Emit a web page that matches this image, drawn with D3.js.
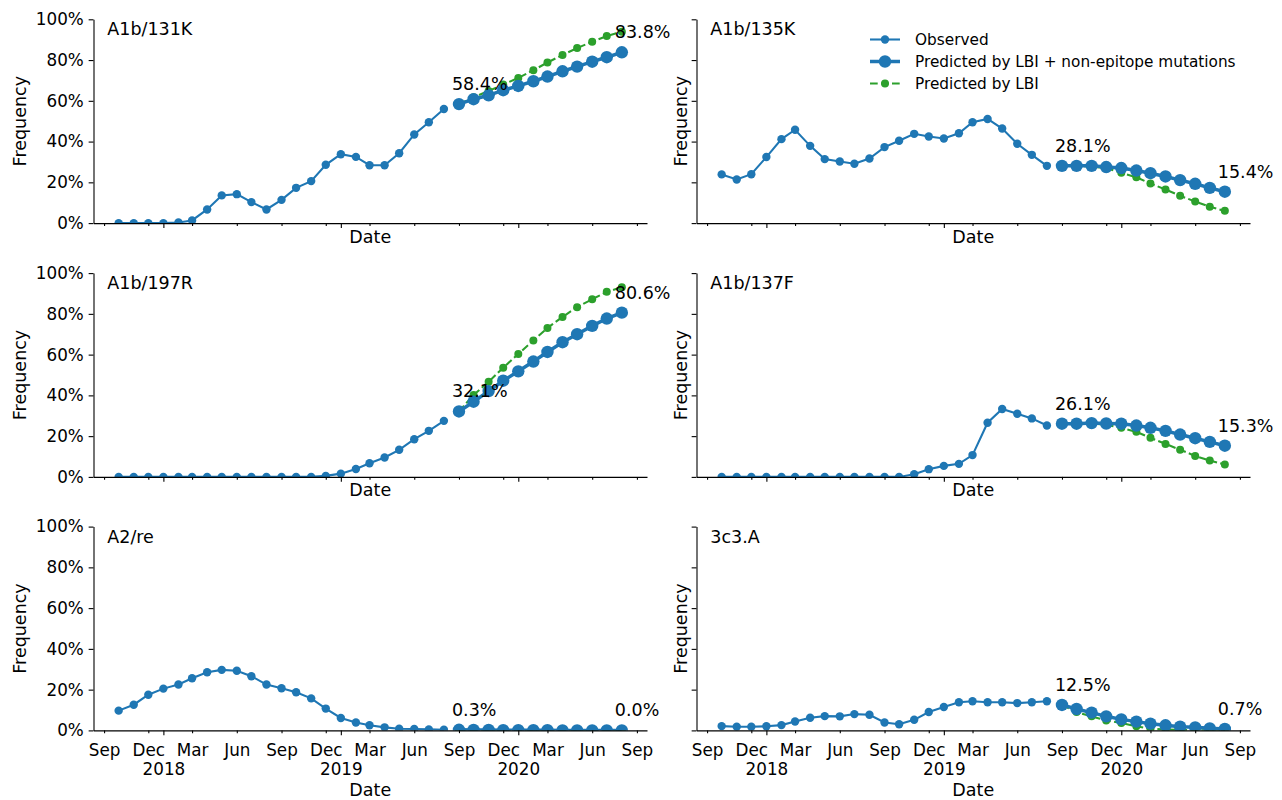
<!DOCTYPE html>
<html>
<head>
<meta charset="utf-8">
<script src="https://cdn.jsdelivr.net/npm/d3@7"></script>
<style>
  body { margin: 0; background: #fff; }
  svg { display: block; font-family: "DejaVu Sans", sans-serif; }
</style>
</head>
<body>
<svg id="chart" width="1282" height="800"></svg>
<script>
// ---- data (frequencies in %) ----
const CLADES = ["A1b/131K", "A1b/135K", "A1b/197R", "A1b/137F", "A2/re", "3c3.A"];

const OBS_MONTHS = ["2017-10", "2017-11", "2017-12", "2018-01", "2018-02", "2018-03", "2018-04", "2018-05",
  "2018-06", "2018-07", "2018-08", "2018-09", "2018-10", "2018-11", "2018-12", "2019-01", "2019-02",
  "2019-03", "2019-04", "2019-05", "2019-06", "2019-07", "2019-08"];
const PRED_MONTHS = ["2019-09", "2019-10", "2019-11", "2019-12", "2020-01", "2020-02", "2020-03",
  "2020-04", "2020-05", "2020-06", "2020-07", "2020-08"];

const OBS_131K = [0, 0, 0, 0, 0.3, 1.3, 6.7, 13.6, 14.2, 10.3, 6.7, 11.4, 17.3, 20.6, 28.6, 33.8, 32.5, 28.4, 28.4, 34.3, 43.5, 49.5, 56.0];
const OBS_135K = [23.9, 21.4, 24.0, 32.4, 41.2, 45.8, 37.9, 31.4, 30.2, 29.1, 31.7, 37.3, 40.4, 43.8, 42.5, 41.5, 44.1, 49.5, 51.1, 46.4, 38.9, 33.5, 28.1];
const OBS_197R = [0, 0, 0, 0, 0, 0, 0, 0, 0, 0, 0, 0, 0, 0, 0.5, 1.6, 3.9, 6.7, 9.5, 13.3, 18.5, 22.6, 27.5];
const OBS_137F = [0, 0, 0, 0, 0, 0, 0, 0, 0, 0, 0, 0, 0, 1.3, 3.8, 5.4, 6.4, 10.7, 26.6, 33.3, 31.0, 28.7, 25.2];
const OBS_A2RE = [9.7, 12.6, 17.5, 20.5, 22.5, 25.6, 28.5, 29.7, 29.3, 26.6, 22.5, 20.7, 18.7, 15.7, 10.7, 6.1, 3.9, 2.5, 1.5, 0.8, 0.7, 0.5, 0.3];
const OBS_3C3A = [2.1, 1.8, 1.8, 2.0, 2.6, 4.4, 6.2, 7.0, 6.9, 8.0, 7.7, 3.9, 3.0, 5.2, 9.0, 11.5, 13.8, 14.3, 13.8, 13.8, 13.4, 13.8, 14.3];

// predicted by LBI + non-epitope mutations
const NONEPI_131K = [58.4, 60.8, 62.7, 65.2, 67.3, 69.6, 71.9, 74.5, 76.8, 79.2, 81.4, 83.8];
const NONEPI_135K = [28.1, 28.1, 28.1, 27.5, 27.0, 25.8, 24.5, 22.9, 21.1, 19.3, 17.3, 15.4];
const NONEPI_197R = [32.1, 36.9, 42.1, 47.2, 51.8, 56.6, 61.3, 66.1, 70.0, 74.1, 77.7, 80.6];
const NONEPI_137F = [26.1, 26.1, 26.4, 26.2, 26.1, 25.2, 24.1, 22.6, 20.8, 19.0, 17.2, 15.3];
const NONEPI_A2RE = [0.3, 0.2, 0.2, 0.1, 0.1, 0.1, 0.1, 0.0, 0.0, 0.0, 0.0, 0.0];
const NONEPI_3C3A = [12.5, 10.5, 8.7, 6.9, 5.4, 4.3, 3.3, 2.5, 1.8, 1.5, 1.0, 0.7];

// predicted by LBI
const LBI_131K = [58.4, 61.7, 64.8, 68.0, 71.2, 75.0, 78.8, 82.5, 85.9, 89.0, 91.8, 93.9];
const LBI_135K = [28.1, 28.0, 27.8, 26.9, 24.7, 22.5, 19.4, 16.5, 13.4, 10.6, 8.0, 6.0];
const LBI_197R = [32.1, 40.2, 46.7, 53.6, 60.3, 66.9, 73.1, 78.5, 83.3, 87.2, 90.8, 93.1];
const LBI_137F = [26.1, 26.6, 26.3, 25.5, 24.1, 22.1, 19.2, 16.2, 13.3, 10.3, 8.0, 6.1];
const LBI_A2RE = [0.3, 0.2, 0.1, 0.1, 0.0, 0.0, 0.0, 0.0, 0.0, 0.0, 0.0, 0.0];
const LBI_3C3A = [12.5, 9.0, 6.9, 4.9, 3.6, 2.0, 0.8, 0.4, 0.2, 0.1, 0.1, 0.0];

const Y_TICKS = [0, 20, 40, 60, 80, 100];
const MONTH_TICKS = ["2017-09", "2017-12", "2018-03", "2018-06", "2018-09", "2018-12", "2019-03",
  "2019-06", "2019-09", "2019-12", "2020-03", "2020-06", "2020-09"];
const YEAR_TICKS = ["2018-01", "2019-01", "2020-01"];

const LEGEND_LABELS = ["Observed", "Predicted by LBI + non-epitope mutations", "Predicted by LBI"];

// ---- layout ----
const BLUE = "#1f77b4", GREEN = "#2ca02c";
const FS_TICK = 16.8, FS_LAB = 17.5, FS_LEG = 15.3;
const COL_X = [93.5, 696.5], AX_W = 553.5;
const ROW_Y = [19.3, 273.1, 526.6], AX_H = 203.8;
const MAJ_TICK = 4.86, MIN_TICK = 2.78;

const parseMonth = d3.utcParse("%Y-%m");
const obsDates = OBS_MONTHS.map(parseMonth);
const predDates = PRED_MONTHS.map(parseMonth);

const panels = CLADES.map((name, i) => ({
  name,
  obs: [OBS_131K, OBS_135K, OBS_197R, OBS_137F, OBS_A2RE, OBS_3C3A][i],
  nonepi: [NONEPI_131K, NONEPI_135K, NONEPI_197R, NONEPI_137F, NONEPI_A2RE, NONEPI_3C3A][i],
  lbi: [LBI_131K, LBI_135K, LBI_197R, LBI_137F, LBI_A2RE, LBI_3C3A][i],
  col: i % 2,
  row: Math.floor(i / 2)
}));

const t0 = +obsDates[0], t1 = +predDates[predDates.length - 1];
const pad = 0.05 * (t1 - t0);

const svg = d3.select("#chart");
svg.append("rect").attr("width", 1282).attr("height", 800).attr("fill", "#fff");

panels.forEach((p, i) => {
  const x0 = COL_X[p.col], y0 = ROW_Y[p.row];
  const x = d3.scaleUtc().domain([new Date(t0 - pad), new Date(t1 + pad)]).range([x0, x0 + AX_W]);
  const y = d3.scaleLinear().domain([0, 100]).range([y0 + AX_H, y0]);
  const g = svg.append("g").attr("class", "panel");

  const clipId = "clip" + i;
  g.append("clipPath").attr("id", clipId)
    .append("rect").attr("x", x0).attr("y", y0).attr("width", AX_W).attr("height", AX_H);

  const data = g.append("g").attr("clip-path", `url(#${clipId})`);
  const line = d3.line().x(d => x(d[0])).y(d => y(d[1]));

  const obsPts = obsDates.map((d, k) => [d, p.obs[k]]);
  const lbiPts = predDates.map((d, k) => [d, p.lbi[k]]);
  const nePts = predDates.map((d, k) => [d, p.nonepi[k]]);

  // observed
  data.append("path").attr("d", line(obsPts))
    .attr("fill", "none").attr("stroke", BLUE).attr("stroke-width", 2.08);
  data.selectAll(".obs").data(obsPts).join("circle")
    .attr("cx", d => x(d[0])).attr("cy", d => y(d[1])).attr("r", 4.2).attr("fill", BLUE);

  // predicted by LBI (green dashed)
  data.append("path").attr("d", line(lbiPts))
    .attr("fill", "none").attr("stroke", GREEN).attr("stroke-width", 2.08)
    .attr("stroke-dasharray", "7.7,3.3");
  data.selectAll(".lbi").data(lbiPts).join("circle")
    .attr("cx", d => x(d[0])).attr("cy", d => y(d[1])).attr("r", 4).attr("fill", GREEN);

  // predicted by LBI + non-epitope mutations
  data.append("path").attr("d", line(nePts))
    .attr("fill", "none").attr("stroke", BLUE).attr("stroke-width", 3.5);
  data.selectAll(".ne").data(nePts).join("circle")
    .attr("cx", d => x(d[0])).attr("cy", d => y(d[1])).attr("r", 6.2).attr("fill", BLUE);

  // y axis
  const yAx = g.append("g").attr("transform", `translate(${x0},0)`)
    .call(d3.axisLeft(y).tickValues(Y_TICKS).tickSize(MAJ_TICK).tickPadding(4.86).tickSizeOuter(0)
      .tickFormat(p.col === 0 ? (d => d + "%") : ""));
  yAx.attr("font-family", null).attr("font-size", FS_TICK);
  yAx.selectAll("line,path").attr("stroke", "#000").attr("stroke-width", 1.1);
  yAx.selectAll("text").attr("fill", "#000");

  // x axis: quarterly minor ticks with month names, yearly major ticks
  const isBottom = p.row === 2;
  const xMin = g.append("g").attr("transform", `translate(0,${y0 + AX_H})`)
    .call(d3.axisBottom(x).tickValues(MONTH_TICKS.map(parseMonth)).tickSize(MIN_TICK).tickSizeOuter(0)
      .tickFormat(isBottom ? d3.utcFormat("%b") : ""));
  xMin.attr("font-family", null).attr("font-size", FS_TICK);
  xMin.selectAll("line,path").attr("stroke", "#000").attr("stroke-width", 1.1);
  xMin.selectAll("text").attr("fill", "#000").attr("y", 25.3).attr("dy", null);

  const xMaj = g.append("g").attr("transform", `translate(0,${y0 + AX_H})`)
    .call(d3.axisBottom(x).tickValues(YEAR_TICKS.map(parseMonth)).tickSize(MAJ_TICK).tickSizeOuter(0)
      .tickFormat(isBottom ? d3.utcFormat("%Y") : ""));
  xMaj.select(".domain").remove();
  xMaj.attr("font-family", null).attr("font-size", FS_TICK);
  xMaj.selectAll("line").attr("stroke", "#000").attr("stroke-width", 1.1);
  xMaj.selectAll("text").attr("fill", "#000").attr("y", 44.5).attr("dy", null);

  // axis labels
  g.append("text")
    .attr("x", x0 + AX_W / 2)
    .attr("y", y0 + AX_H + (isBottom ? 65.6 : 19.5))
    .attr("text-anchor", "middle").attr("font-size", FS_LAB)
    .text("Date");

  const ylx = p.col === 0 ? 25.5 : 686.5;
  g.append("text")
    .attr("transform", `translate(${ylx},${y0 + AX_H / 2}) rotate(-90)`)
    .attr("text-anchor", "middle").attr("font-size", FS_LAB)
    .text("Frequency");

  // clade name
  g.append("text")
    .attr("x", x0 + 13.8).attr("y", y0 + 16)
    .attr("font-size", FS_LAB)
    .text(p.name);

  // start / end annotations
  const ann = [nePts[0], nePts[nePts.length - 1]];
  g.selectAll(".ann").data(ann).join("text")
    .attr("x", d => x(d[0]) - 7)
    .attr("y", d => y(d[1]) - 14)
    .attr("font-size", FS_LAB)
    .text(d => d[1].toFixed(1) + "%");

  // legend in the top-right panel
  if (i === 1) {
    const lg = g.append("g");
    const lx = 870, rowsY = [39.5, 61.5, 83.5];
    const styles = [
      { stroke: BLUE, w: 2.08, r: 4.2, fill: BLUE, dash: null },
      { stroke: BLUE, w: 3.5, r: 6.2, fill: BLUE, dash: null },
      { stroke: GREEN, w: 2.08, r: 4, fill: GREEN, dash: "7.7,3.3" }
    ];
    LEGEND_LABELS.forEach((lab, k) => {
      const s = styles[k], ly = rowsY[k];
      lg.append("line").attr("x1", lx).attr("x2", lx + 30).attr("y1", ly).attr("y2", ly)
        .attr("stroke", s.stroke).attr("stroke-width", s.w).attr("stroke-dasharray", s.dash);
      lg.append("circle").attr("cx", lx + 15).attr("cy", ly).attr("r", s.r).attr("fill", s.fill);
      lg.append("text").attr("x", lx + 45).attr("y", ly).attr("dy", "0.35em")
        .attr("font-size", FS_LEG).text(lab);
    });
  }
});
</script>
</body>
</html>
